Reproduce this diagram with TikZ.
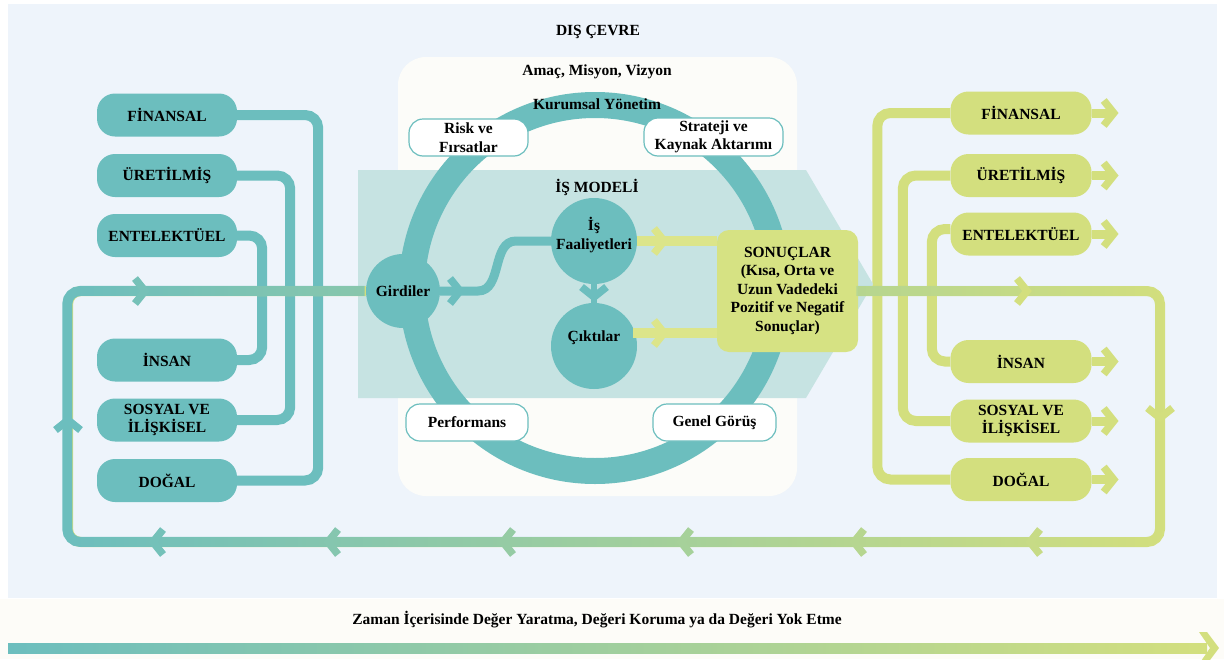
\documentclass[tikz,border=0pt]{standalone}
\usepackage{fontspec}
\setmainfont{Liberation Serif}
\usetikzlibrary{calc,fadings}
\definecolor{bgblue}{HTML}{EEF4FB}
\definecolor{cream}{HTML}{FDFCF8}
\definecolor{panelc}{HTML}{FCFCF9}
\definecolor{bandc}{HTML}{C6E3E2}
\definecolor{tealc}{HTML}{6CBEBE}
\definecolor{yelc}{HTML}{D3DF7E}
\definecolor{ylight}{HTML}{DCE58A}
\definecolor{sonc}{HTML}{D6E283}
\tikzfading[name=loopfade, left color=transparent!0, right color=transparent!100]
\newcommand\chv[3]{\draw[line width=7.5pt,line join=miter,#3,shift={#1},rotate=#2] (-10,-12.5) -- (0,0) -- (-10,12.5);}
\begin{document}
\begin{tikzpicture}[x=1pt,y=-1pt,
  font=\bfseries\fontsize{15.5pt}{18.5pt}\selectfont,
  capL/.style={fill=tealc, rounded corners=18pt, minimum width=140pt, minimum height=43pt, align=center, inner sep=1pt},
  capR/.style={fill=yelc, rounded corners=18pt, minimum width=141pt, minimum height=43pt, align=center, inner sep=1pt},
  pill/.style={draw=tealc, line width=1.2pt, fill=white, rounded corners=14pt, align=center, inner sep=0pt},
  circ/.style={circle, fill=tealc, inner sep=0pt},
  tline/.style={draw=tealc, line width=10pt, rounded corners=13pt},
  yline/.style={draw=yelc, line width=10pt, rounded corners=13pt},
  lbl/.style={align=center, inner sep=0pt}]
\useasboundingbox (0,0) rectangle (1224,659);
% backgrounds
\fill[white] (0,0) rectangle (1224,659);
\fill[bgblue] (8,4) rectangle (1217,598);
\fill[cream] (0,599) rectangle (1224,659);
\node[lbl] (dis) at (598,32) {DIŞ ÇEVRE};

% left capitals
\node[capL] (lf1) at (167,115) {FİNANSAL};
\node[capL] (lf2) at (167,175.5) {ÜRETİLMİŞ};
\node[capL] (lf3) at (167,235.5) {ENTELEKTÜEL};
\node[capL] (lf4) at (167,360) {İNSAN};
\node[capL] (lf5) at (167,420) {SOSYAL VE\\İLİŞKİSEL};
\node[capL] (lf6) at (167,480.5) {DOĞAL};
\draw[tline] (lf1.east) -- ++(81,0) |- (lf6.east);
\draw[tline] (lf2.east) -- ++(53,0) |- (lf5.east);
\draw[tline] (lf3.east) -- ++(25,0) |- (lf4.east);

% right capitals
\node[capR] (rf1) at (1021,113) {FİNANSAL};
\node[capR] (rf2) at (1021,175.5) {ÜRETİLMİŞ};
\node[capR] (rf3) at (1021,234) {ENTELEKTÜEL};
\node[capR] (rf4) at (1021,361.5) {İNSAN};
\node[capR] (rf5) at (1021,421) {SOSYAL VE\\İLİŞKİSEL};
\node[capR] (rf6) at (1021,479.5) {DOĞAL};
\draw[yline] (rf1.west) -- ++(-73,0) |- (rf6.west);
\draw[yline] (rf2.west) -- ++(-47.5,0) |- (rf5.west);
\draw[yline] ([yshift=5pt]rf3.west) -- ++(-18.5,0) |- (rf4.west);
\foreach \r in {rf1,rf2,rf3,rf4,rf5,rf6}{
  \draw[draw=yelc, line width=9pt] (\r.east) -- ++(18,0);
  \chv{($(\r.east)+(22,0)$)}{0}{yelc}
}

% central panel, band, ring
\fill[panelc, rounded corners=28pt] (398,57) rectangle (797,496);
\fill[bandc] (358,170) -- (806,170) -- (873,284) -- (806,398) -- (358,398) -- cycle;
\draw[tealc, line width=26pt] (595,288) circle[radius=183pt];
\node[lbl] (amac) at (597,72) {Amaç, Misyon, Vizyon};
\node[lbl] (kur) at (597,104) {Kurumsal Yönetim};
\node[lbl] (ism) at (597,187) {İŞ MODELİ};

\node[pill, minimum width=119pt, minimum height=37pt] (risk) at (468.5,137.5) {Risk ve\\Fırsatlar};
\node[pill, minimum width=139pt, minimum height=38pt] (strat) at (713.5,137) {Strateji ve\\Kaynak Aktarımı};
\node[pill, minimum width=122pt, minimum height=37pt] (perf) at (467,422.5) {Performans};
\node[pill, minimum width=123pt, minimum height=37pt] (genel) at (714.5,422.5) {Genel Görüş};

% business model nodes
\node[circ, minimum size=74pt] (gird) at (403,291) {Girdiler};
\node[circ, minimum size=86pt, label={[lbl, yshift=6pt]center:İş\\Faaliyetleri}] (fa) at (594,241) {};
\node[circ, minimum size=86pt, label={[lbl, yshift=8pt]center:Çıktılar}] (ci) at (594,346) {};
\node[fill=sonc, rounded corners=12pt, minimum width=141pt, minimum height=122pt, align=center, inner sep=0pt] (son) at (787.5,291) {SONUÇLAR\\(Kısa, Orta ve\\Uzun Vadedeki\\Pozitif ve Negatif\\Sonuçlar)};

% inner connectors
\draw[tealc, line width=9pt] (gird.east) -- (478,291) to[out=0,in=180] (516,241) -- (fa.west);
\chv{(460,291)}{0}{tealc}
\draw[tealc, line width=6pt] (fa.south) -- (ci.north);
\chv{(594,297)}{270}{tealc}
\draw[ylight, line width=10pt] (fa.east) -- (fa.east -| son.west);
\chv{(664,241)}{0}{ylight}
\coordinate (cio) at ($(ci.center)+(39,-13)$);
\draw[ylight, line width=10pt] (cio) -- (cio -| son.west);
\chv{(664,333)}{0}{ylight}

% value creation loop
\draw[yline] (son.east) -- (1160,291) -- (1160,542) -- (68,542) -- (68,291) -- (gird.west);
\draw[tline, path fading=loopfade] (son.east) -- (1160,291) -- (1160,542) -- (68,542) -- (68,291) -- (gird.west);
\chv{(1027,291)}{0}{yelc}
\chv{(1160,418)}{270}{yelc}
\chv{(1030,542)}{180}{tealc!12!yelc}
\chv{(854,542)}{180}{tealc!28!yelc}
\chv{(681,542)}{180}{tealc!44!yelc}
\chv{(503,542)}{180}{tealc!60!yelc}
\chv{(328,542)}{180}{tealc!76!yelc}
\chv{(153,542)}{180}{tealc!92!yelc}
\chv{(68,420)}{90}{tealc}
\chv{(145,291)}{0}{tealc!90!yelc}

% time arrow
\node[lbl] (zaman) at (597,620) {Zaman İçerisinde Değer Yaratma, Değeri Koruma ya da Değeri Yok Etme};
\shade[left color=tealc, right color=yelc] (8,643) rectangle (1207,653);
\fill[yelc] (1199,632) -- (1207,632) -- (1219,648) -- (1207,664) -- (1199,664) -- (1210,648) -- cycle;
\end{tikzpicture}
\end{document}
